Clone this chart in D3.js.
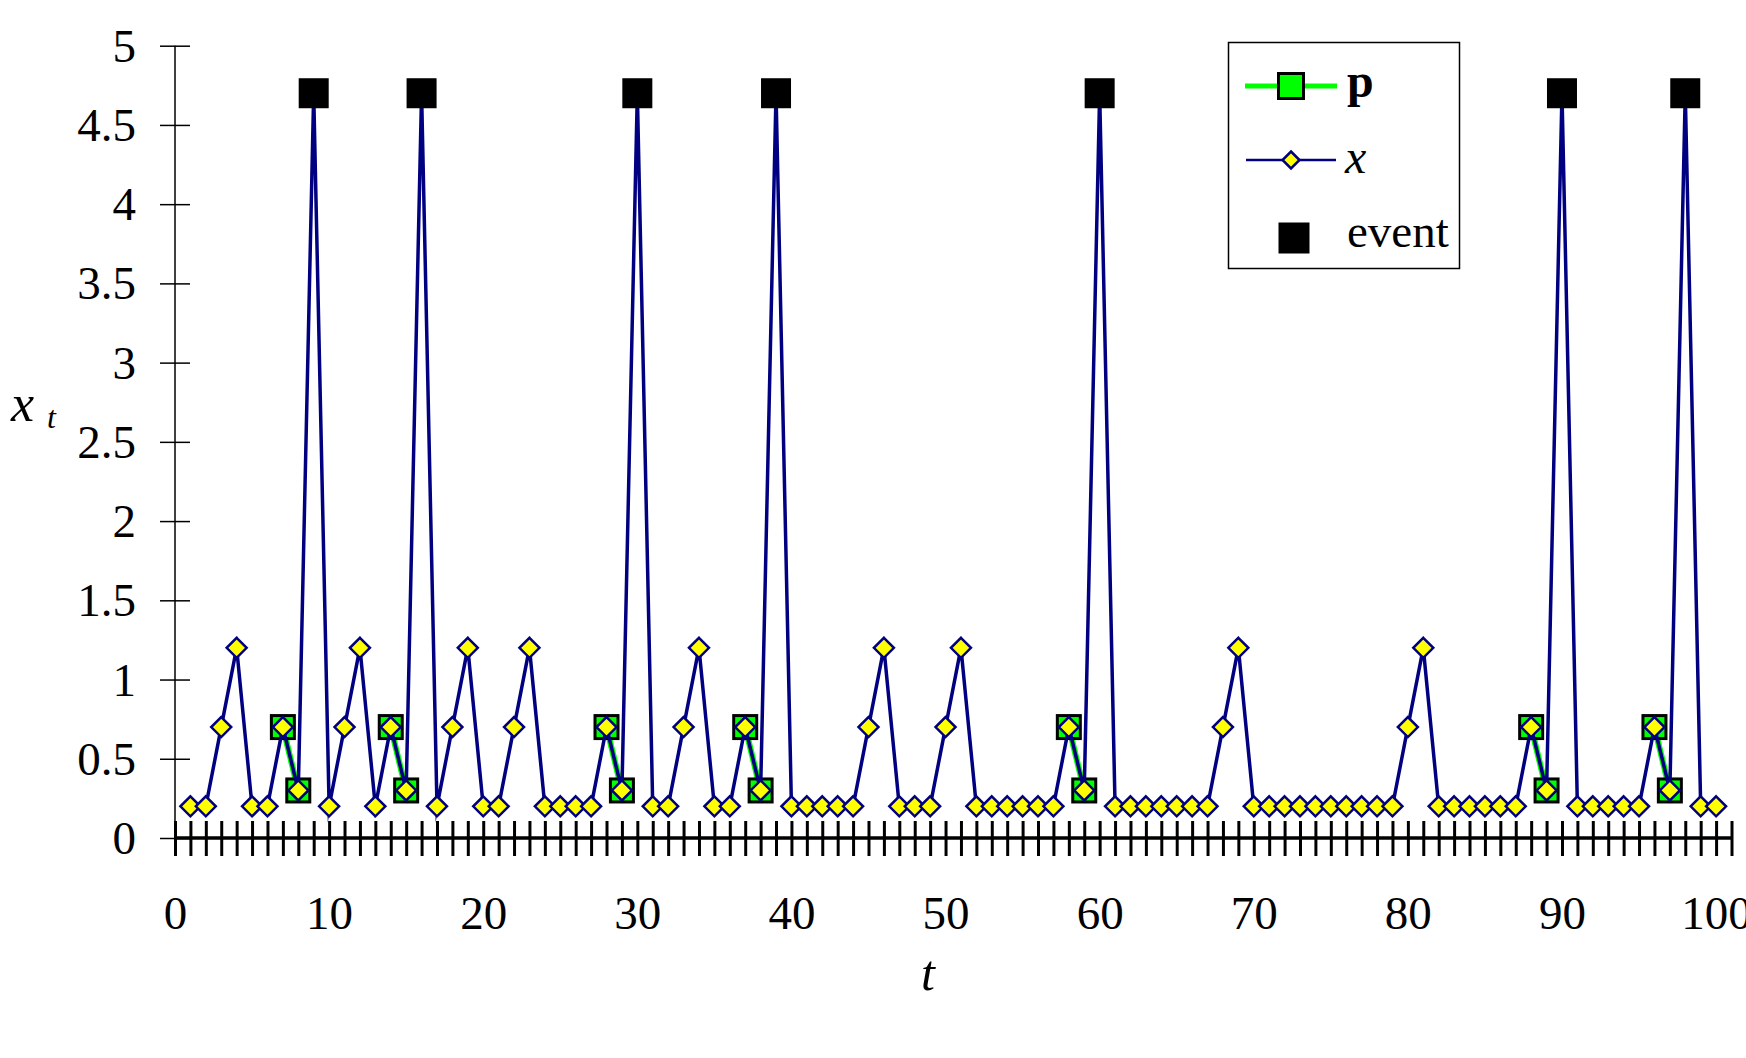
<!DOCTYPE html>
<html>
<head>
    <script src="https://d3js.org/d3.v7.min.js"></script>
    <style>
        body { margin: 0; background: #fff; }
        svg { display: block; }
        text { font-family: "Liberation Serif", "Times New Roman", serif; fill: #000; }
    </style>
</head>
<body>
    <script>
        // time steps and the x series
        const tValues = d3.range(1, 101);
        const xValues = [
            0.2, 0.2, 0.7, 1.2, 0.2, 0.2, 0.7, 0.3, 4.7, 0.2,
            0.7, 1.2, 0.2, 0.7, 0.3, 4.7, 0.2, 0.7, 1.2, 0.2,
            0.2, 0.7, 1.2, 0.2, 0.2, 0.2, 0.2, 0.7, 0.3, 4.7,
            0.2, 0.2, 0.7, 1.2, 0.2, 0.2, 0.7, 0.3, 4.7, 0.2,
            0.2, 0.2, 0.2, 0.2, 0.7, 1.2, 0.2, 0.2, 0.2, 0.7,
            1.2, 0.2, 0.2, 0.2, 0.2, 0.2, 0.2, 0.7, 0.3, 4.7,
            0.2, 0.2, 0.2, 0.2, 0.2, 0.2, 0.2, 0.7, 1.2, 0.2,
            0.2, 0.2, 0.2, 0.2, 0.2, 0.2, 0.2, 0.2, 0.2, 0.7,
            1.2, 0.2, 0.2, 0.2, 0.2, 0.2, 0.2, 0.7, 0.3, 4.7,
            0.2, 0.2, 0.2, 0.2, 0.2, 0.7, 0.3, 4.7, 0.2, 0.2
        ];

        // p series (pairs of points)
        const pT = [7, 8, 14, 15, 28, 29, 37, 38, 58, 59, 88, 89, 96, 97];
        const pValues = [0.7, 0.3, 0.7, 0.3, 0.7, 0.3, 0.7, 0.3, 0.7, 0.3, 0.7, 0.3, 0.7, 0.3];

        // events
        const eventT = [9, 16, 30, 39, 60, 90, 98];
        const eventValues = [4.7, 4.7, 4.7, 4.7, 4.7, 4.7, 4.7];

        const yTicks = [0, 0.5, 1, 1.5, 2, 2.5, 3, 3.5, 4, 4.5, 5];
        const xLabelTicks = [0, 10, 20, 30, 40, 50, 60, 70, 80, 90, 100];
        const xMinorTicks = d3.range(0, 102);

        const W = 1746, H = 1058;
        const navy = '#000080';
        const green = '#00ff00';
        const serif = '"Liberation Serif", "Times New Roman", serif';

        const svg = d3.select('body')
            .append('svg')
            .attr('width', W)
            .attr('height', H);

        const xScale = d3.scaleLinear().domain([0, 101]).range([175, 1731.5]);
        const yScale = d3.scaleLinear().domain([0, 5]).range([838, 45.7]);

        // y axis
        const yAxis = svg.append('g')
            .attr('transform', `translate(${xScale(0)},0)`)
            .call(d3.axisLeft(yScale).tickValues(yTicks).tickFormat(d => String(d)).tickSize(15).tickPadding(24));
        yAxis.select('.domain').attr('d', `M0,${yScale(5)}V${yScale(0)}`).attr('stroke-width', 1.5);
        yAxis.selectAll('.tick line').attr('x1', -15).attr('x2', 15).attr('stroke-width', 1.5);
        yAxis.selectAll('.tick text')
            .attr('font-size', 47)
            .attr('font-family', serif)
            .attr('dy', '0.33em');

        // x axis (minor crossing ticks)
        const xAxis = svg.append('g')
            .attr('transform', `translate(0,${yScale(0)})`)
            .call(d3.axisBottom(xScale).tickValues(xMinorTicks).tickFormat('').tickSize(18));
        xAxis.select('.domain').attr('d', `M${xScale(0)},0H${xScale(101)}`).attr('stroke-width', 3.5);
        xAxis.selectAll('.tick line').attr('y1', -17).attr('y2', 18).attr('stroke-width', 3);

        // x axis labels
        const xLab = svg.append('g')
            .attr('transform', `translate(0,${yScale(0)})`)
            .call(d3.axisBottom(xScale).tickValues(xLabelTicks).tickSize(0).tickPadding(58));
        xLab.select('.domain').remove();
        xLab.selectAll('.tick text')
            .attr('font-size', 47)
            .attr('font-family', serif);

        // axis titles
        svg.append('text')
            .attr('x', 928)
            .attr('y', 990)
            .attr('text-anchor', 'middle')
            .attr('font-size', 50)
            .attr('font-style', 'italic')
            .text('t');

        const yTitle = svg.append('text')
            .attr('x', 11)
            .attr('y', 421)
            .attr('font-size', 52)
            .attr('font-style', 'italic');
        yTitle.append('tspan').text('x');
        yTitle.append('tspan').attr('x', 47).attr('y', 428).attr('font-size', 32).text('t');

        // p series: green segments
        const pData = pT.map((t, i) => ({ t: t, v: pValues[i] }));
        const pSegments = [];
        pData.forEach((d, i) => {
            if (i === 0 || d.t !== pData[i - 1].t + 1) pSegments.push([]);
            pSegments[pSegments.length - 1].push(d);
        });

        const pLine = d3.line()
            .x(d => xScale(d.t))
            .y(d => yScale(d.v));

        svg.append('g')
            .selectAll('path')
            .data(pSegments)
            .join('path')
            .attr('fill', 'none')
            .attr('stroke', green)
            .attr('stroke-width', 6)
            .attr('d', pLine);

        svg.append('g')
            .selectAll('rect')
            .data(pData)
            .join('rect')
            .attr('x', d => xScale(d.t) - 11.5)
            .attr('y', d => yScale(d.v) - 11.5)
            .attr('width', 23)
            .attr('height', 23)
            .attr('fill', green)
            .attr('stroke', '#000')
            .attr('stroke-width', 3);

        // x series: navy line with yellow diamonds
        const xData = tValues.map((t, i) => ({ t: t, v: xValues[i] }));
        const xLine = d3.line()
            .x(d => xScale(d.t))
            .y(d => yScale(d.v));

        svg.append('path')
            .datum(xData)
            .attr('fill', 'none')
            .attr('stroke', navy)
            .attr('stroke-width', 3.5)
            .attr('stroke-linejoin', 'miter')
            .attr('stroke-miterlimit', 30)
            .attr('d', xLine);

        const diamond = r => `M0,${-r}L${r},0L0,${r}L${-r},0Z`;

        svg.append('g')
            .selectAll('path')
            .data(xData)
            .join('path')
            .attr('transform', d => `translate(${xScale(d.t)},${yScale(d.v)})`)
            .attr('d', diamond(10))
            .attr('fill', '#ffff00')
            .attr('stroke', navy)
            .attr('stroke-width', 2.5);

        // events
        svg.append('g')
            .selectAll('rect')
            .data(eventT.map((t, i) => ({ t: t, v: eventValues[i] })))
            .join('rect')
            .attr('x', d => xScale(d.t) - 15)
            .attr('y', d => yScale(d.v) - 15)
            .attr('width', 30)
            .attr('height', 30)
            .attr('fill', '#000');

        // legend
        const legend = svg.append('g');
        legend.append('rect')
            .attr('x', 1228.5)
            .attr('y', 42.5)
            .attr('width', 231)
            .attr('height', 226)
            .attr('fill', '#fff')
            .attr('stroke', '#000')
            .attr('stroke-width', 1.5);

        legend.append('line')
            .attr('x1', 1245).attr('x2', 1337)
            .attr('y1', 86).attr('y2', 86)
            .attr('stroke', green)
            .attr('stroke-width', 5);
        legend.append('rect')
            .attr('x', 1291 - 12.5).attr('y', 86 - 12.5)
            .attr('width', 25).attr('height', 25)
            .attr('fill', green)
            .attr('stroke', '#000')
            .attr('stroke-width', 3);
        legend.append('text')
            .attr('x', 1347).attr('y', 97)
            .attr('font-size', 48)
            .attr('font-weight', 'bold')
            .text('p');

        legend.append('line')
            .attr('x1', 1246).attr('x2', 1336)
            .attr('y1', 160).attr('y2', 160)
            .attr('stroke', navy)
            .attr('stroke-width', 2.5);
        legend.append('path')
            .attr('transform', 'translate(1291,160)')
            .attr('d', diamond(8.5))
            .attr('fill', '#ffff00')
            .attr('stroke', navy)
            .attr('stroke-width', 2.5);
        legend.append('text')
            .attr('x', 1345).attr('y', 173)
            .attr('font-size', 48)
            .attr('font-style', 'italic')
            .text('x');

        legend.append('rect')
            .attr('x', 1294 - 15.5).attr('y', 238 - 15.5)
            .attr('width', 31).attr('height', 31)
            .attr('fill', '#000');
        legend.append('text')
            .attr('x', 1347).attr('y', 247)
            .attr('font-size', 47)
            .text('event');
    </script>
</body>
</html>
